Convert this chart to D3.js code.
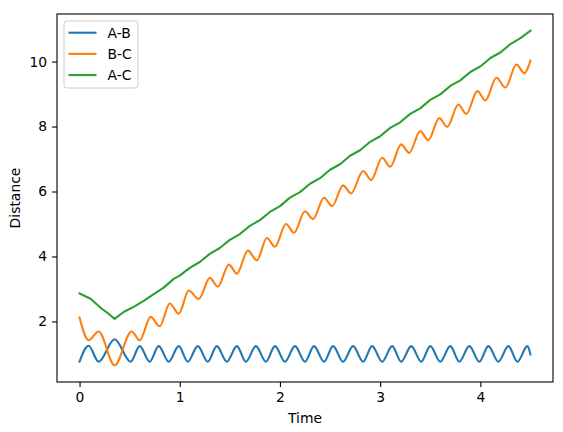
<!DOCTYPE html>
<html lang="en">
<head>
<meta charset="UTF-8">
<title>Distance vs Time</title>
<script src="https://d3js.org/d3.v7.min.js"></script>
<style>
  body { margin: 0; background: #fff; }
  text { font-family: "DejaVu Sans", sans-serif; }
</style>
</head>
<body>
<div id="chart"></div>
<script>
// values (extrema of the oscillations)
var abTime = [0, 0.09, 0.19, 0.35, 0.51,
  0.60, 0.70, 0.79, 0.89, 0.99, 1.08, 1.18, 1.28, 1.37, 1.47,
  1.57, 1.66, 1.76, 1.86, 1.95, 2.05, 2.15, 2.25, 2.34, 2.44,
  2.53, 2.63, 2.73, 2.83, 2.92, 3.02, 3.12, 3.21, 3.31, 3.41,
  3.50, 3.60, 3.70, 3.79, 3.89, 3.99, 4.08, 4.18, 4.28, 4.37,
  4.47, 4.50];
var abValue = [0.76, 1.25, 0.76, 1.45, 0.76,
  1.24, 0.76, 1.24, 0.76, 1.24, 0.76, 1.24, 0.76, 1.24, 0.76,
  1.24, 0.76, 1.24, 0.76, 1.24, 0.76, 1.24, 0.76, 1.24, 0.76,
  1.24, 0.76, 1.24, 0.76, 1.24, 0.76, 1.24, 0.76, 1.24, 0.76,
  1.24, 0.76, 1.24, 0.76, 1.24, 0.76, 1.24, 0.76, 1.24, 0.76,
  1.24, 0.98];

var bcTime = [0, 0.09, 0.19, 0.35, 0.52, 0.60,
  0.71, 0.80, 0.90, 0.99, 1.09, 1.19, 1.30, 1.38, 1.49, 1.57,
  1.68, 1.77, 1.87, 1.95, 2.06, 2.14, 2.25, 2.33, 2.44, 2.52,
  2.63, 2.71, 2.83, 2.91, 3.02, 3.10, 3.21, 3.29, 3.40, 3.48,
  3.59, 3.67, 3.78, 3.86, 3.97, 4.05, 4.16, 4.25, 4.36, 4.44,
  4.50];
var bcValue = [2.12, 1.42, 1.69, 0.65, 1.69, 1.42,
  2.14, 1.85, 2.55, 2.24, 2.95, 2.69, 3.34, 3.07, 3.75, 3.47,
  4.18, 3.88, 4.57, 4.30, 5.00, 4.73, 5.39, 5.15, 5.81, 5.55,
  6.19, 5.94, 6.63, 6.35, 7.04, 6.76, 7.45, 7.19, 7.86, 7.58,
  8.26, 7.99, 8.68, 8.39, 9.09, 8.80, 9.50, 9.20, 9.91, 9.64,
  10.03];

var acTime = [0, 0.11, 0.21, 0.28, 0.35, 0.44, 0.54, 0.64, 0.74, 0.84, 0.94,
  1.0, 1.1, 1.2, 1.3, 1.4, 1.5, 1.6, 1.7, 1.8, 1.9,
  2.0, 2.1, 2.2, 2.3, 2.4, 2.5, 2.6, 2.7, 2.8, 2.9,
  3.0, 3.1, 3.2, 3.3, 3.4, 3.5, 3.6, 3.7, 3.8, 3.9,
  4.0, 4.1, 4.2, 4.3, 4.4, 4.5];
var acValue = [2.86, 2.70, 2.42, 2.26, 2.08, 2.29, 2.45, 2.63, 2.84, 3.04, 3.31,
  3.41, 3.65, 3.83, 4.08, 4.26, 4.51, 4.69, 4.94, 5.12, 5.37,
  5.55, 5.81, 5.98, 6.24, 6.41, 6.67, 6.84, 7.10, 7.27, 7.53,
  7.70, 7.96, 8.13, 8.39, 8.56, 8.82, 8.99, 9.25, 9.42, 9.68,
  9.85, 10.11, 10.28, 10.54, 10.72, 10.95];

var seriesNames = ['A-B', 'B-C', 'A-C'];
var seriesColors = ['#1f77b4', '#ff7f0e', '#2ca02c'];
var xTicks = [0, 1, 2, 3, 4];
var yTicks = [2, 4, 6, 8, 10];

var series = [
  { name: seriesNames[0], color: seriesColors[0], t: abTime, v: abValue, curve: d3.curveMonotoneX },
  { name: seriesNames[1], color: seriesColors[1], t: bcTime, v: bcValue, curve: d3.curveMonotoneX },
  { name: seriesNames[2], color: seriesColors[2], t: acTime, v: acValue, curve: d3.curveLinear }
];

var W = 563, H = 432;
var axL = 57, axR = 553, axT = 14, axB = 382;
var fs = 13.9;

// matplotlib style 5% autoscale margins
var allT = abTime.concat(bcTime, acTime);
var allV = abValue.concat(bcValue, acValue);
var tExt = d3.extent(allT), vExt = d3.extent(allV);
var tPad = (tExt[1] - tExt[0]) * 0.05, vPad = (vExt[1] - vExt[0]) * 0.05;

var xScale = d3.scaleLinear()
  .domain([tExt[0] - tPad, tExt[1] + tPad])
  .range([axL, axR]);
var yScale = d3.scaleLinear()
  .domain([vExt[0] - vPad, vExt[1] + vPad])
  .range([axB, axT]);

var svg = d3.select('#chart').append('svg')
  .attr('width', W)
  .attr('height', H);

svg.append('rect').attr('width', W).attr('height', H).attr('fill', '#fff');

// lines
var plot = svg.append('g');
series.forEach(function(s) {
  var pts = s.t.map(function(t, i) { return [t, s.v[i]]; });
  var line = d3.line()
    .x(function(d) { return xScale(d[0]); })
    .y(function(d) { return yScale(d[1]); })
    .curve(s.curve);
  plot.append('path')
    .datum(pts)
    .attr('d', line)
    .attr('fill', 'none')
    .attr('stroke', s.color)
    .attr('stroke-width', 2.1)
    .attr('stroke-linejoin', 'round')
    .attr('stroke-linecap', 'square');
});

// axes
var xAxis = d3.axisBottom(xScale).tickValues(xTicks).tickSize(4.9).tickPadding(4.9)
  .tickFormat(d3.format('d'));
var gx = svg.append('g').attr('transform', 'translate(0,' + axB + ')').call(xAxis);
var yAxis = d3.axisLeft(yScale).tickValues(yTicks).tickSize(4.9).tickPadding(4.9)
  .tickFormat(d3.format('d'));
var gy = svg.append('g').attr('transform', 'translate(' + axL + ',0)').call(yAxis);

[gx, gy].forEach(function(g) {
  g.select('.domain').remove();
  g.selectAll('line').attr('stroke', '#000').attr('stroke-width', 1.1);
  g.selectAll('text').attr('fill', '#000')
    .style('font-size', fs + 'px')
    .style('font-family', '"DejaVu Sans", sans-serif');
});

// spines
svg.append('rect')
  .attr('x', axL).attr('y', axT)
  .attr('width', axR - axL).attr('height', axB - axT)
  .attr('fill', 'none')
  .attr('stroke', '#000')
  .attr('stroke-width', 1.1);

// axis labels
svg.append('text')
  .attr('x', (axL + axR) / 2)
  .attr('y', 423)
  .attr('text-anchor', 'middle')
  .style('font-size', fs + 'px')
  .text('Time');

svg.append('text')
  .attr('transform', 'translate(20,' + ((axT + axB) / 2) + ') rotate(-90)')
  .attr('text-anchor', 'middle')
  .style('font-size', fs + 'px')
  .text('Distance');

// legend
var legend = svg.append('g').attr('transform', 'translate(64,21)');
legend.append('rect')
  .attr('width', 74).attr('height', 67)
  .attr('rx', 3).attr('ry', 3)
  .attr('fill', '#fff').attr('fill-opacity', 0.8)
  .attr('stroke', '#cccccc').attr('stroke-width', 1);

var rows = legend.selectAll('g.row').data(series)
  .enter().append('g')
  .attr('class', 'row')
  .attr('transform', function(d, i) { return 'translate(0,' + (11.7 + i * 21.2) + ')'; });
rows.append('line')
  .attr('x1', 4.5).attr('x2', 32.5)
  .attr('stroke', function(d) { return d.color; })
  .attr('stroke-width', 2.1);
rows.append('text')
  .attr('x', 43.5)
  .attr('dy', '0.36em')
  .style('font-size', fs + 'px')
  .text(function(d) { return d.name; });
</script>
</body>
</html>
